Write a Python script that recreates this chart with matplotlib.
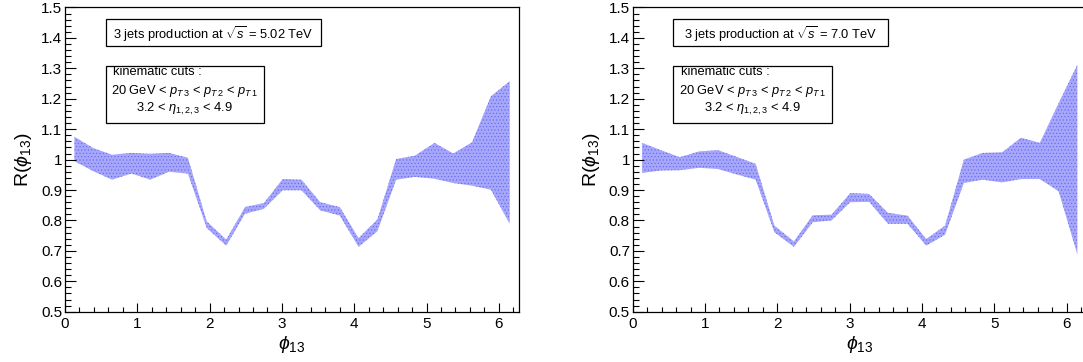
import matplotlib
matplotlib.use("Agg")
import matplotlib.pyplot as plt
from matplotlib.patches import Rectangle
from matplotlib.ticker import MultipleLocator, FuncFormatter

plt.rcParams["font.family"] = ["Liberation Sans", "DejaVu Sans"]
plt.rcParams["mathtext.fontset"] = "custom"
plt.rcParams["mathtext.rm"] = "Liberation Sans"
plt.rcParams["mathtext.it"] = "Liberation Sans:italic"
plt.rcParams["hatch.linewidth"] = 0.4

# bin centres in phi_13 (24 bins over [0, 2pi])
phi_centers = [0.13, 0.39, 0.65, 0.92, 1.18, 1.44, 1.70, 1.96, 2.23, 2.49, 2.75, 3.01,
               3.27, 3.53, 3.80, 4.06, 4.32, 4.58, 4.84, 5.11, 5.37, 5.63, 5.89, 6.15]

# sqrt(s) = 5.02 TeV band
upper_502 = [1.075, 1.038, 1.016, 1.022, 1.019, 1.022, 1.006, 0.797, 0.737, 0.844, 0.857, 0.936,
             0.934, 0.860, 0.844, 0.742, 0.803, 1.002, 1.013, 1.055, 1.020, 1.057, 1.208, 1.258]
lower_502 = [0.995, 0.962, 0.934, 0.954, 0.934, 0.960, 0.954, 0.775, 0.717, 0.822, 0.838, 0.899,
             0.899, 0.833, 0.816, 0.713, 0.764, 0.934, 0.943, 0.937, 0.923, 0.914, 0.901, 0.789]

# sqrt(s) = 7.0 TeV band
upper_70 = [1.055, 1.031, 1.008, 1.027, 1.031, 1.009, 0.986, 0.783, 0.731, 0.817, 0.819, 0.890,
            0.887, 0.825, 0.816, 0.739, 0.783, 1.000, 1.022, 1.024, 1.072, 1.055, 1.185, 1.312]
lower_70 = [0.956, 0.964, 0.965, 0.973, 0.969, 0.951, 0.934, 0.761, 0.713, 0.794, 0.800, 0.860,
            0.861, 0.789, 0.789, 0.717, 0.753, 0.923, 0.934, 0.925, 0.936, 0.936, 0.896, 0.688]

energy_labels = ["5.02", "7.0"]
title_box_widths = [0.474, 0.473]

fig = plt.figure(figsize=(10.83, 3.62), dpi=100)
axes = [fig.add_axes([0.0600, 0.1390, 0.4195, 0.8403]),
        fig.add_axes([0.5842, 0.1390, 0.4195, 0.8403])]

bands = [(upper_502, lower_502), (upper_70, lower_70)]

for ax, (up, lo), energy, bw in zip(axes, bands, energy_labels, title_box_widths):
    ax.fill_between(phi_centers, lo, up, facecolor="#a6a6fa", edgecolor="#6464f2",
                    hatch=".....", linewidth=0)
    ax.set_xlim(0, 6.2832)
    ax.set_ylim(0.5, 1.5)

    ax.xaxis.set_major_locator(MultipleLocator(1))
    ax.xaxis.set_minor_locator(MultipleLocator(0.2))
    ax.yaxis.set_major_locator(MultipleLocator(0.1))
    ax.yaxis.set_minor_locator(MultipleLocator(0.02))
    ax.yaxis.set_major_formatter(FuncFormatter(lambda v, p: f"{v:g}"))
    ax.tick_params(which="both", direction="in", top=False, right=False, labelsize=11)
    ax.tick_params(axis="x", which="major", length=6.5, width=0.8, pad=4)
    ax.tick_params(axis="x", which="minor", length=3.6, width=0.8)
    ax.tick_params(axis="y", which="major", length=8, width=0.8, pad=2)
    ax.tick_params(axis="y", which="minor", length=4.3, width=0.8)
    for s in ax.spines.values():
        s.set_linewidth(0.9)

    ax.set_xlabel(r"$\phi_{\mathit{13}}$", fontsize=14, labelpad=2)
    ax.set_ylabel(r"R($\phi_{\mathit{13}}$)", fontsize=14, labelpad=5)

    ax.add_patch(Rectangle((0.0896, 0.8734), bw, 0.0876, transform=ax.transAxes,
                           facecolor="white", edgecolor="black", linewidth=0.9))
    ax.text(0.0896 + bw / 2, 0.913, r"3 jets production at $\sqrt{s}$ = " + energy + " TeV",
            transform=ax.transAxes, ha="center", va="center", fontsize=9.3)

    ax.add_patch(Rectangle((0.0896, 0.6213), 0.3484, 0.1874, transform=ax.transAxes,
                           facecolor="white", edgecolor="black", linewidth=0.9))
    ax.text(0.1057, 0.788, "kinematic cuts :", transform=ax.transAxes,
            ha="left", va="center", fontsize=9.3)
    ax.text(0.2638, 0.7255,
            r"20 GeV < $p_{T\,3}$ < $p_{T\,2}$ < $p_{T\,1}$",
            transform=ax.transAxes, ha="center", va="center", fontsize=9.3)
    ax.text(0.2638, 0.6663, r"3.2 < $\eta_{1,2,3}$ < 4.9", transform=ax.transAxes,
            ha="center", va="center", fontsize=9.3)

fig.savefig("out.png", dpi=100)
